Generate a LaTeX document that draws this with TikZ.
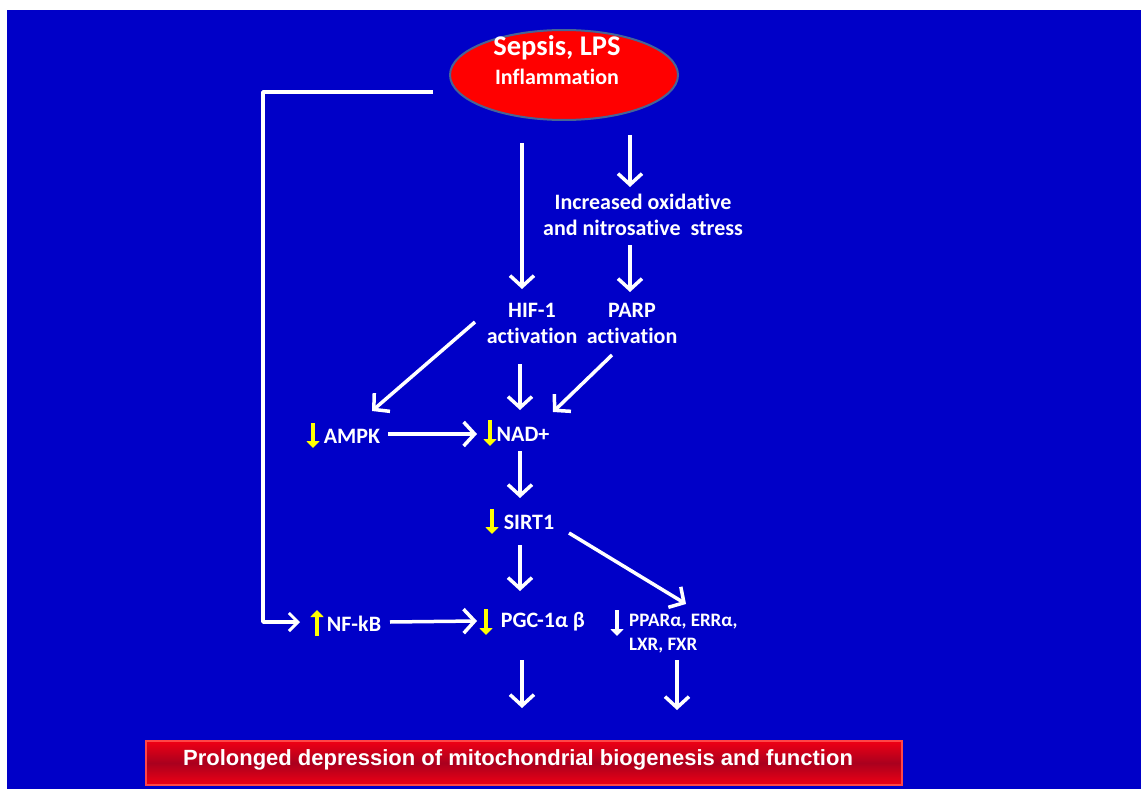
\documentclass[tikz,border=0pt]{standalone}
\usepackage{fontspec}
\setmainfont{Carlito}[Ligatures=NoCommon]
\newfontfamily\arialfont{Liberation Sans}
\usetikzlibrary{arrows.meta,shapes.geometric}
\definecolor{bg}{RGB}{0,0,200}
\definecolor{ellred}{RGB}{255,0,0}
\definecolor{elledge}{RGB}{70,100,150}
\definecolor{boxred}{RGB}{240,0,20}
\definecolor{boxdark}{RGB}{170,0,30}
\definecolor{boxedge}{RGB}{255,70,70}
\definecolor{yel}{RGB}{255,255,0}
\begin{document}
\begin{tikzpicture}[x=1pt,y=-1pt,
  conn/.style={draw=white, line width=3.5pt, line cap=butt,
    -{Straight Barb[length=11pt,width=24pt,line width=3.5pt]}},
  elbow/.style={draw=white, line width=3.5pt, line join=round,
    -{Straight Barb[length=9pt,width=18pt,line width=3pt]}},
  lbl/.style={text=white, font=\bfseries\fontsize{22}{26}\selectfont, inner sep=0pt, align=center},
  small/.style={text=white, font=\bfseries\fontsize{19}{24}\selectfont, inner sep=0pt, align=left},
  yup/.style={draw=yel, line width=4.5pt, -{Triangle[length=7pt,width=13pt]}},
  ydown/.style={draw=yel, line width=4.5pt, -{Triangle[length=7pt,width=13pt]}},
  wdown/.style={draw=white, line width=4.5pt, -{Triangle[length=7pt,width=13pt]}}
]
\useasboundingbox (0,0) rectangle (1141,789);
\fill[white] (0,0) rectangle (1141,789);
\fill[bg] (7,10) rectangle (1141,789);

% top ellipse
\node[ellipse, draw=elledge, line width=2pt, fill=ellred,
  minimum width=228pt, minimum height=90pt] (sep) at (564,75) {};
\node[lbl, font=\bfseries\fontsize{28.5}{30}\selectfont] (sepT) at (557,48) {Sepsis, LPS};
\node[lbl, font=\bfseries\fontsize{22}{24}\selectfont] (inflT) at (557,77) {Inflammation};

% text nodes
\node[lbl] (ox) at (643,215) {Increased oxidative\\and nitrosative~~stress};
\node[lbl] (hif) at (532,323) {HIF-1\\activation};
\node[lbl] (parp) at (632,323) {PARP\\activation};
\node[lbl] (ampk) at (352,436) {AMPK};
\node[lbl] (nad) at (523,434) {NAD+};
\node[lbl] (sirt) at (529,522) {SIRT1};
\node[lbl] (nfkb) at (354,624) {NF-kB};
\node[lbl] (pgc) at (543,622) {PGC-1α β};
\node[small, anchor=west] (ppar) at (629,634) {PPARα, ERRα,\\LXR, FXR};

% yellow / white indicator arrows
\draw[ydown] (313,423) -- (313,448);
\draw[ydown] (490,420) -- (490,446);
\draw[ydown] (492,509) -- (492,534);
\draw[yup] (317,636) -- (317,610);
\draw[ydown] (486,609) -- (486,635);
\draw[wdown] (617,610) -- (617,636);

% bottom box
\shade[top color=boxred, bottom color=boxred, middle color=boxdark]
  (146,741) rectangle (902,785);
\draw[boxedge, line width=1.5pt] (146,741) rectangle (902,785);
\node[text=white, font=\arialfont\bfseries\fontsize{22}{24}\selectfont, inner sep=0pt] (bot) at (518,760) {Prolonged depression of mitochondrial biogenesis and function};

% coordinates for connectors
\coordinate (a1s) at (433,92);
\coordinate (a1c1) at (263,92);
\coordinate (a1c2) at (263,622);
\coordinate (a1e) at (300,622);
\coordinate (a2s) at (522,143);
\coordinate (a2e) at (522,289);
\coordinate (a3s) at (630,135);
\coordinate (a3e) at (630,187);
\coordinate (a4s) at (630,245);
\coordinate (a4e) at (630,292);
\coordinate (a5s) at (475,322);
\coordinate (a5e) at (372,411);
\coordinate (a6s) at (520,364);
\coordinate (a6e) at (520,410);
\coordinate (a7s) at (612,355);
\coordinate (a7e) at (553,412);
\coordinate (a8s) at (388,434);
\coordinate (a8e) at (477,434);
\coordinate (a9s) at (520,451);
\coordinate (a9e) at (520,498);
\coordinate (a10s) at (520,545);
\coordinate (a10e) at (520,591);
\coordinate (a11s) at (569,533);
\coordinate (a11e) at (686,604);
\coordinate (a12s) at (390,622);
\coordinate (a12e) at (477,621);
\coordinate (a13s) at (522,660);
\coordinate (a13e) at (522,708);
\coordinate (a14s) at (677,660);
\coordinate (a14e) at (677,710);

\draw[elbow] (a1s) -- (a1c1) -- (a1c2) -- (a1e);
\draw[conn] (a2s) -- (a2e);
\draw[conn] (a3s) -- (a3e);
\draw[conn] (a4s) -- (a4e);
\draw[conn] (a5s) -- (a5e);
\draw[conn] (a6s) -- (a6e);
\draw[conn] (a7s) -- (a7e);
\draw[conn] (a8s) -- (a8e);
\draw[conn] (a9s) -- (a9e);
\draw[conn] (a10s) -- (a10e);
\draw[conn] (a11s) -- (a11e);
\draw[conn] (a12s) -- (a12e);
\draw[conn] (a13s) -- (a13e);
\draw[conn] (a14s) -- (a14e);
\end{tikzpicture}
\end{document}
